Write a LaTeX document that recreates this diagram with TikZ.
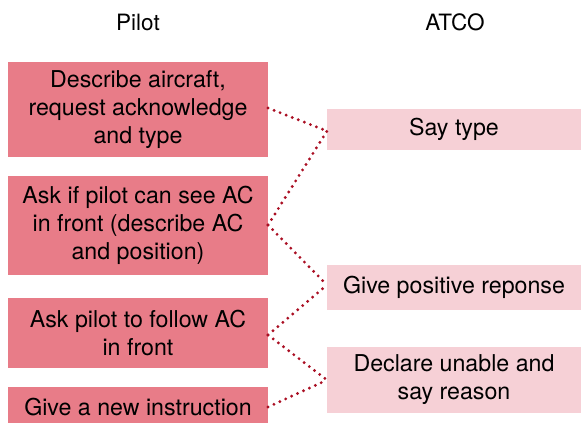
\documentclass[tikz,border=0pt]{standalone}
\usepackage{fontspec}
\setmainfont{TeX Gyre Heros}
\definecolor{pilotpink}{RGB}{232,124,136}
\definecolor{atcopink}{RGB}{246,208,214}
\definecolor{dotred}{RGB}{170,15,35}
\begin{document}
\begin{tikzpicture}[x=1pt,y=-1pt,
  every node/.style={inner sep=0pt,outer sep=0pt},
  pilotbox/.style={fill=pilotpink,minimum width=260pt,align=center,font=\fontsize{23.2}{28}\selectfont},
  atcobox/.style={fill=atcopink,minimum width=254pt,align=center,font=\fontsize{23.2}{28}\selectfont},
  title/.style={font=\fontsize{22.5}{26}\selectfont},
  dotline/.style={draw=dotred,line width=3.2pt,line cap=round,dash pattern=on 0pt off 6.5pt}]
\useasboundingbox (0,0) rectangle (581,423);
\node[title] (tp) at (138,22) {Pilot};
\node[title] (ta) at (455,22) {ATCO};
% pilot boxes
\node[pilotbox,minimum height=95pt] (p1) at (138,109.5) {Describe aircraft,\\request acknowledge\\and type};
\node[pilotbox,minimum height=99pt] (p2) at (138,225.5) {Ask if pilot can see AC\\in front (describe AC\\and position)};
\node[pilotbox,minimum height=70pt] (p3) at (138,333) {Ask pilot to follow AC\\in front};
\node[pilotbox,minimum height=40pt] (p4) at (138,407) {Give a new instruction};
% atco boxes
\node[atcobox,minimum height=41pt] (a1) at (454,129.5) {Say type};
\node[atcobox,minimum height=45pt] (a2) at (454,287.5) {Give positive reponse};
\node[atcobox,minimum height=66pt] (a3) at (454,380) {Declare unable and\\say reason};
% connectors
\coordinate (p1r) at (p1.east |- 0,108);
\coordinate (p2r) at (p2.east |- 0,225);
\coordinate (p3r) at (p3.east |- 0,335);
\coordinate (p4r) at (p4.east |- 0,407);
\coordinate (a1l) at (a1.west |- 0,131);
\coordinate (a2l) at (a2.west |- 0,285);
\coordinate (a3l) at (a3.west |- 0,380);
\draw[dotline] (p1r) -- (a1l);
\draw[dotline] (p2r) -- (a1l);
\draw[dotline] (p2r) -- (a2l);
\draw[dotline] (p3r) -- (a2l);
\draw[dotline] (p3r) -- (a3l);
\draw[dotline] (p4r) -- (a3l);
\end{tikzpicture}
\end{document}
